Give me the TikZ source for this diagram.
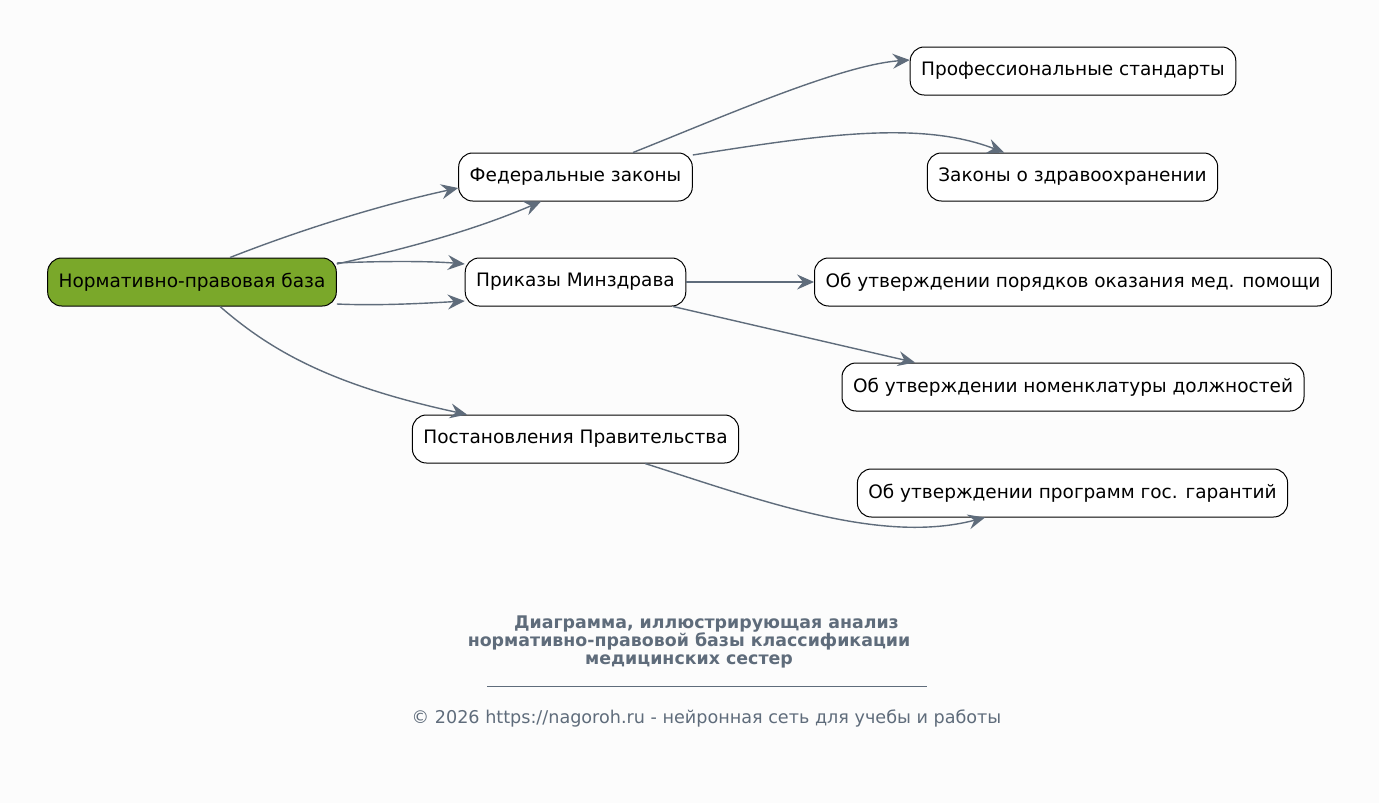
\documentclass[tikz,border=0pt]{standalone}
\usepackage{fontspec}
\setmainfont{DejaVu Sans}
\usetikzlibrary{arrows.meta,positioning}
\definecolor{edgegray}{RGB}{95,108,123}
\definecolor{leafgreen}{RGB}{122,168,42}
\definecolor{bggray}{RGB}{252,252,252}

\begin{document}
\begin{tikzpicture}[x=1pt,y=-1pt,
  box/.style={draw=black,line width=1pt,rounded corners=14pt,fill=white,
    minimum height=48pt,inner xsep=11pt,font=\fontsize{18.5}{22}\selectfont},
  rootbox/.style={box,fill=leafgreen},
  link/.style={draw=edgegray,line width=1.4pt,
    -{Stealth[length=17pt,width=15pt,inset=6pt]}}]
\fill[bggray] (0,0) rectangle (1379,803);

\node[rootbox] (base) at (192,282) {Нормативно-правовая база};
\node[box] (fedlaw) at (575.5,177) {Федеральные законы};
\node[box] (orders) at (575.5,282) {Приказы Минздрава};
\node[box] (decrees) at (575.5,439) {Постановления Правительства};
\node[box] (profstd) at (1073,71) {Профессиональные стандарты};
\node[box] (health) at (1072.5,177) {Законы о здравоохранении};
\node[box] (care) at (1073,282) {Об утверждении порядков оказания мед. помощи};
\node[box] (posts) at (1073,387) {Об утверждении номенклатуры должностей};
\node[box] (guar) at (1072.5,493) {Об утверждении программ гос. гарантий};

\draw[link] ([xshift=38pt]base.north) .. controls (300,230) and (380,205) .. ([yshift=-11pt]fedlaw.west);
\draw[link] ([yshift=18pt]base.east) .. controls (400,250) and (470,232) .. ([xshift=-34.5pt]fedlaw.south);
\draw[link] ([yshift=19pt]base.east) .. controls (380,261) and (430,261) .. ([yshift=18pt]orders.west);
\draw[link] ([yshift=-22pt]base.east) .. controls (380,306) and (430,303) .. ([yshift=-19pt]orders.west);
\draw[link] ([xshift=28pt]base.south) .. controls (270,350) and (330,385) .. ([xshift=-108.5pt]decrees.north);
\draw[link] ([xshift=57.5pt]fedlaw.north) .. controls (720,118) and (840,65) .. ([yshift=11pt]profstd.west);
\draw[link] ([yshift=22pt]fedlaw.east) .. controls (820,135) and (920,120) .. ([xshift=-68.5pt]health.north);
\draw[link] (orders) -- (care);
\draw[link] ([xshift=97.5pt]orders.south) -- ([xshift=-158pt]posts.north);
\draw[link] ([xshift=69.5pt]decrees.south) .. controls (760,500) and (880,545) .. ([xshift=-87.5pt]guar.south);

\node[font=\bfseries\fontsize{17.4}{17.5}\selectfont,text=edgegray,align=center] (title) at (689,641.5)
  {\hspace*{35pt}Диаграмма, иллюстрирующая анализ\\нормативно-правовой базы классификации\\медицинских сестер};
\node[text=edgegray,inner sep=0pt] (rule) at (707,686) {\rule{440pt}{0.8pt}};
\node[text=edgegray,font=\fontsize{17.6}{20}\selectfont] (footer) at (706.5,718)
  {© 2026 https://nagoroh.ru - нейронная сеть для учебы и работы};
\end{tikzpicture}
\end{document}
